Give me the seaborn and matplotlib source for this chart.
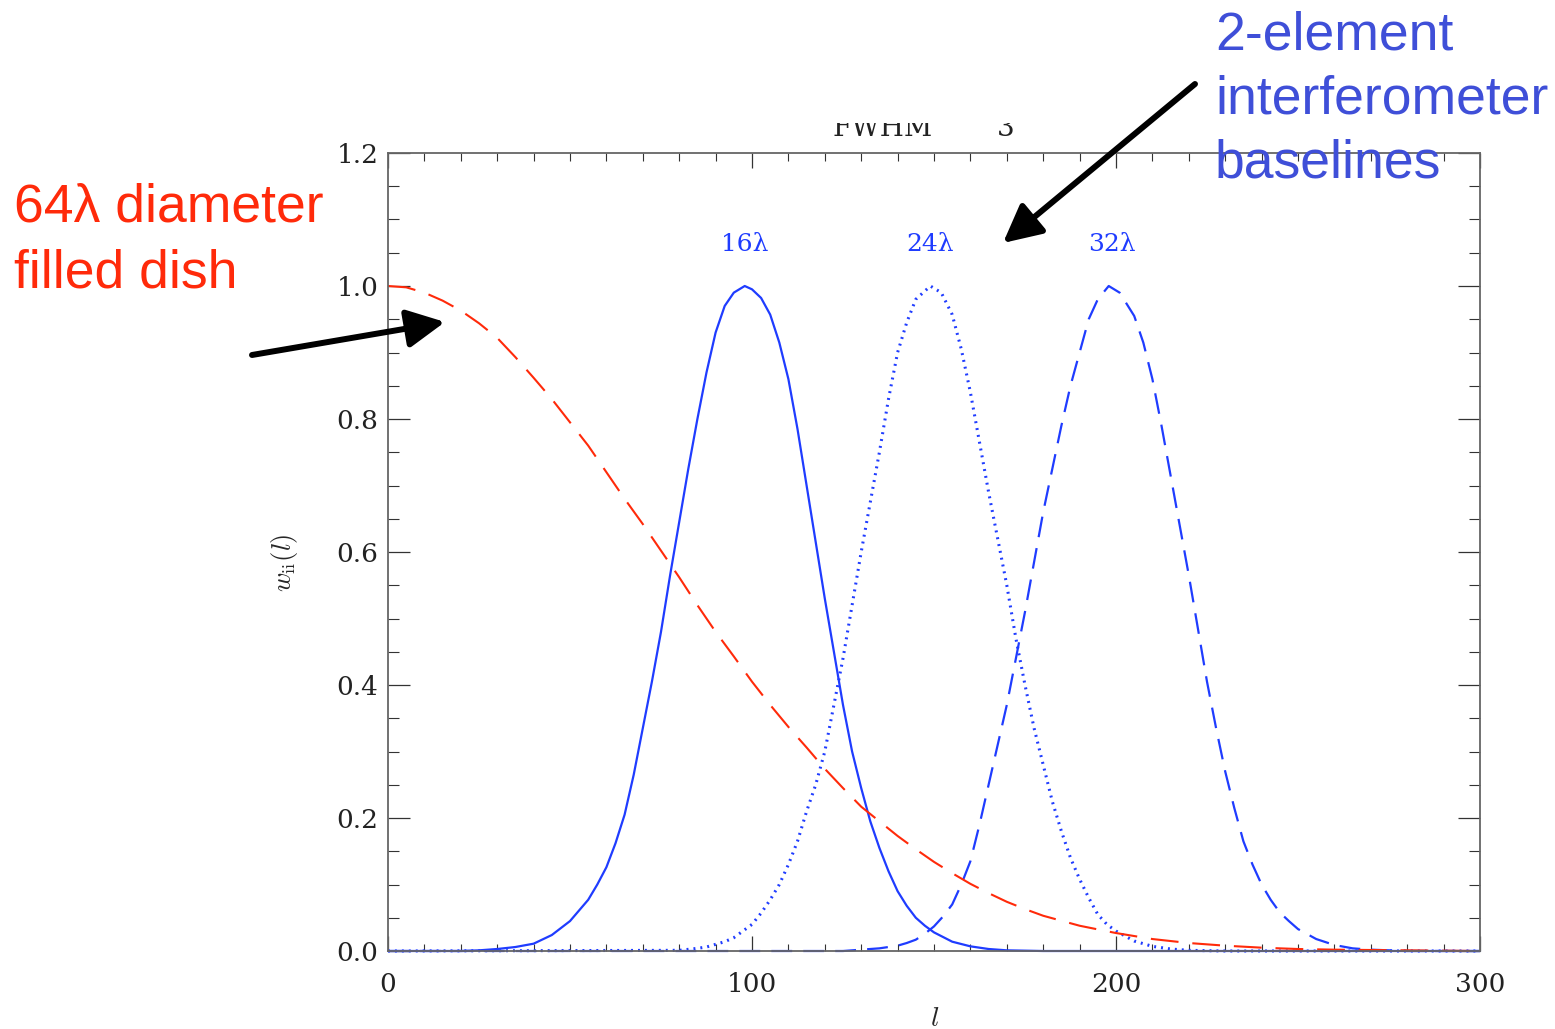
import matplotlib
matplotlib.use("Agg")
import matplotlib.pyplot as plt
import seaborn as sns
import numpy as np
from matplotlib.ticker import MultipleLocator, FormatStrFormatter
from matplotlib.patches import Rectangle

# ---------------- data ----------------
solid_l = [0, 20, 25, 30, 35, 40, 45, 50, 55, 57.5, 60, 62.5, 65, 67.5, 70, 72.5,
           75, 77.5, 80, 82.5, 85, 87.5, 90, 92.5, 95, 98, 100, 102.5, 105, 107.5,
           110, 112.5, 115, 117.5, 120, 122.5, 125, 127.5, 130, 132.5, 135, 137.5,
           140, 142.5, 145, 147.5, 150, 155, 160, 165, 170, 180, 300]
solid_w = [0, 0.0, 0.001, 0.003, 0.006, 0.011, 0.024, 0.045, 0.077, 0.10, 0.126,
           0.162, 0.205, 0.265, 0.335, 0.405, 0.48, 0.565, 0.645, 0.725, 0.80, 0.87,
           0.93, 0.97, 0.99, 1.0, 0.995, 0.982, 0.957, 0.915, 0.86, 0.785, 0.70,
           0.615, 0.53, 0.45, 0.37, 0.30, 0.245, 0.195, 0.155, 0.12, 0.09, 0.068,
           0.05, 0.038, 0.028, 0.014, 0.007, 0.003, 0.001, 0, 0]

dotted_l = [0, 80, 85, 87.5, 90, 92.5, 95, 97.5, 100, 102.5, 105, 107.5, 110, 112.5,
            115, 117.5, 120, 122.5, 125, 127.5, 130, 132.5, 135, 137.5, 140, 142.5,
            145, 149, 152, 155, 157.5, 160, 162.5, 165, 167.5, 170, 172.5, 175,
            177.5, 180, 182.5, 185, 187.5, 190, 192.5, 195, 197.5, 200, 205, 210,
            215, 220, 230, 300]
dotted_w = [0, 0.001, 0.004, 0.006, 0.010, 0.014, 0.02, 0.03, 0.04, 0.057, 0.077,
            0.10, 0.13, 0.165, 0.21, 0.25, 0.30, 0.37, 0.44, 0.52, 0.60, 0.675, 0.75,
            0.83, 0.90, 0.945, 0.98, 1.0, 0.99, 0.957, 0.905, 0.84, 0.765, 0.69,
            0.62, 0.55, 0.47, 0.40, 0.335, 0.28, 0.225, 0.18, 0.14, 0.108, 0.08,
            0.055, 0.04, 0.03, 0.015, 0.007, 0.003, 0.001, 0, 0]

dashed_l = [0, 125, 130, 135, 140, 142.5, 145, 147.5, 150, 152.5, 155, 157.5, 160,
            162.5, 165, 167.5, 170, 172.5, 175, 177.5, 180, 182.5, 185, 187.5, 190,
            192.5, 195, 198, 201, 205, 207.5, 210, 212.5, 215, 217.5, 220, 222.5,
            225, 227.5, 230, 232.5, 235, 237.5, 240, 242.5, 245, 247.5, 250, 255,
            260, 265, 270, 280, 300]
dashed_w = [0, 0.0, 0.002, 0.004, 0.008, 0.012, 0.017, 0.026, 0.037, 0.052, 0.07,
            0.10, 0.135, 0.19, 0.25, 0.31, 0.37, 0.44, 0.51, 0.585, 0.66, 0.725,
            0.79, 0.85, 0.90, 0.95, 0.98, 1.0, 0.99, 0.955, 0.915, 0.86, 0.79, 0.715,
            0.64, 0.565, 0.485, 0.405, 0.335, 0.27, 0.215, 0.165, 0.13, 0.10, 0.077,
            0.058, 0.045, 0.033, 0.018, 0.009, 0.004, 0.002, 0, 0]

red_l = [0, 5, 10, 15, 20, 25, 30, 35, 40, 45, 50, 55, 60, 65, 70, 75, 80, 85, 90,
         95, 100, 105, 110, 115, 120, 125, 130, 135, 140, 145, 150, 155, 160, 165,
         170, 175, 180, 190, 200, 210, 220, 230, 240, 250, 260, 280, 300]
red_w = [1.0, 0.998, 0.99, 0.978, 0.963, 0.944, 0.922, 0.893, 0.862, 0.83, 0.795,
         0.76, 0.72, 0.68, 0.642, 0.602, 0.562, 0.52, 0.48, 0.443, 0.405, 0.37,
         0.337, 0.306, 0.274, 0.245, 0.217, 0.195, 0.173, 0.153, 0.134, 0.117,
         0.101, 0.087, 0.074, 0.063, 0.053, 0.038, 0.027, 0.018, 0.012, 0.008,
         0.005, 0.003, 0.002, 0.001, 0.0]

peak_labels = ["16λ", "24λ", "32λ"]
peak_label_x = [98, 149, 199]
x_ticks = [0, 100, 200, 300]

# ---------------- style ----------------
sns.set_theme(style="ticks")
plt.rcParams["font.family"] = ["DejaVu Serif", "DejaVu Sans"]
plt.rcParams["mathtext.fontset"] = "cm"
plt.rcParams["lines.scale_dashes"] = False

BLUE = "#1f3cff"
RED = "#ff2a0a"
TXT_BLUE = "#3f4fd8"

W, H = 1555, 1029
fig = plt.figure(figsize=(W / 100, H / 100), dpi=100)
ax = fig.add_axes([388 / W, 1 - 951 / H, (1480 - 388) / W, (951 - 153) / H])

sns.lineplot(x=solid_l, y=solid_w, ax=ax, color=BLUE, lw=1.6, clip_on=False,
             sort=False, estimator=None)
sns.lineplot(x=dotted_l, y=dotted_w, ax=ax, color=BLUE, lw=2.2,
             linestyle=(0, (1.4, 3.6)), clip_on=False, sort=False, estimator=None)
sns.lineplot(x=dashed_l, y=dashed_w, ax=ax, color=BLUE, lw=1.6,
             linestyle=(0, (15, 8)), clip_on=False, sort=False, estimator=None)
sns.lineplot(x=red_l, y=red_w, ax=ax, color=RED, lw=1.5,
             linestyle=(0, (20, 10)), clip_on=False, sort=False, estimator=None)

ax.set_xlim(0, 300)
ax.set_ylim(0, 1.2)
ax.set_xticks(x_ticks)
ax.xaxis.set_minor_locator(MultipleLocator(10))
ax.yaxis.set_major_locator(MultipleLocator(0.2))
ax.yaxis.set_minor_locator(MultipleLocator(0.05))
ax.yaxis.set_major_formatter(FormatStrFormatter("%.1f"))

for s in ax.spines.values():
    s.set_visible(True)
    s.set_color("#666666")
    s.set_linewidth(1.3)

ax.tick_params(axis="x", which="major", direction="in", length=10.8, width=0.9,
               color="#333333", top=True, bottom=True, labelsize=19, pad=15)
ax.tick_params(axis="x", which="minor", direction="in", length=5.4, width=0.8,
               color="#333333", top=True, bottom=True)
ax.tick_params(axis="y", which="major", direction="in", length=15.8, width=0.9,
               color="#333333", left=True, right=True, labelsize=19, pad=7)
ax.tick_params(axis="y", which="minor", direction="in", length=7.9, width=0.8,
               color="#333333", left=True, right=True)
for lab in ax.get_xticklabels() + ax.get_yticklabels():
    lab.set_color("#222222")

ax.set_xlabel(r"$l$", fontsize=20)
ax.xaxis.set_label_coords((935 - 388) / 1092, -(1005 - 951) / 798)
ax.set_ylabel(r"$w_{\rm ii}(l)$", fontsize=19)
ax.yaxis.set_label_coords((300 - 388) / 1092, (951 - 563) / 798)

for lbl, lx in zip(peak_labels, peak_label_x):
    ax.text(lx, 1.062, lbl, color=BLUE, fontsize=18, ha="center", va="center",
            family="DejaVu Serif")

# ---------------- partially hidden title fragment ----------------
fig.text(883 / W, 1 - 136 / H, "FWHM", fontsize=20, ha="center",
         va="baseline", color="#222222", zorder=2)
fig.text(1006 / W, 1 - 136 / H, "3", fontsize=20, ha="center",
         va="baseline", color="#222222", zorder=2)
fig.add_artist(Rectangle((780 / W, 1 - 123 / H), 300 / W, 123 / H,
                         transform=fig.transFigure, facecolor="white",
                         edgecolor="none", zorder=2.5))

# ---------------- annotations ----------------
sans = ["Liberation Sans", "DejaVu Sans"]
fig.text(14 / W, 1 - 222 / H, "64λ diameter", color=RED, fontsize=38.5,
         family=sans, ha="left", va="baseline", zorder=5)
fig.text(14 / W, 1 - 287 / H, "filled dish", color=RED, fontsize=38.5,
         family=sans, ha="left", va="baseline", zorder=5)
fig.text(1215 / W, 1 - 50 / H, "2-element", color=TXT_BLUE, fontsize=38.5,
         family=sans, ha="left", va="baseline", zorder=5)
fig.text(1215 / W, 1 - 114 / H, "interferometer", color=TXT_BLUE, fontsize=38.5,
         family=sans, ha="left", va="baseline", zorder=5)
fig.text(1215 / W, 1 - 177 / H, "baselines", color=TXT_BLUE, fontsize=38.5,
         family=sans, ha="left", va="baseline", zorder=5)

arrow_kw = dict(arrowstyle="-|>,head_length=1.15,head_width=0.58", lw=4.3,
                color="black", mutation_scale=20, shrinkA=0, shrinkB=0)
ax.annotate("", xy=(445, H - 322), xycoords="figure pixels",
            xytext=(252, H - 355), textcoords="figure pixels",
            arrowprops=arrow_kw, annotation_clip=False)
ax.annotate("", xy=(1003, H - 243), xycoords="figure pixels",
            xytext=(1195, H - 84), textcoords="figure pixels",
            arrowprops=arrow_kw, annotation_clip=False)

fig.savefig("out.png", dpi=100, facecolor="white")
